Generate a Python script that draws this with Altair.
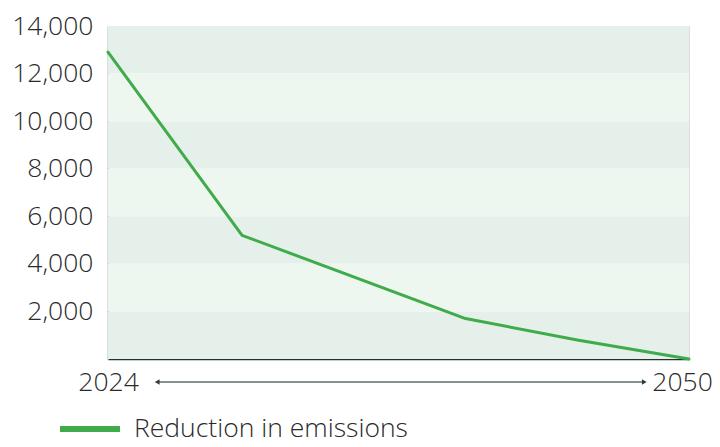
import altair as alt
import pandas as pd

years = [2024, 2030, 2040, 2045, 2050]
emissions = [12900, 5200, 1700, 800, 0]
series_name = "Reduction in emissions"

band_dark_start = [0, 4000, 8000, 12000]
band_light_start = [2000, 6000, 10000]
band_size = 2000

y_ticks = [2000, 4000, 6000, 8000, 10000, 12000, 14000]
x_ticks = [2024, 2050]
arrow_from = 2026.2
arrow_to = 2048.0

FONT = "Open Sans"
GREEN = "#3fab4a"
FS = 26.5
TXT = "#2a2a2a"

line_df = pd.DataFrame({"year": years, "value": emissions, "series": series_name})
dark_df = pd.DataFrame({"y": band_dark_start, "y2": [v + band_size for v in band_dark_start]})
light_df = pd.DataFrame({"y": band_light_start, "y2": [v + band_size for v in band_light_start]})
arrow_df = pd.DataFrame({"a": [arrow_from], "b": [arrow_to]})
head_l = pd.DataFrame({"x": [arrow_from]})
head_r = pd.DataFrame({"x": [arrow_to]})

xscale = alt.Scale(domain=[2024, 2050], nice=False, zero=False)
yscale = alt.Scale(domain=[0, 14000], nice=False)

xaxis = alt.Axis(
    values=x_ticks, labelExpr="format(datum.value, 'd')", ticks=False, grid=False,
    domainColor="#22332b", domainWidth=1.5, labelFontSize=FS, labelColor=TXT,
    labelFont=FONT, labelFontWeight=300, labelPadding=10, labelFlush=False, title=None,
    labelOffset={"condition": {"test": "datum.value == 2050", "value": -7}, "value": 0},
)
yaxis = alt.Axis(
    values=y_ticks, labelExpr="format(datum.value, ',')", ticks=False, grid=False,
    domainColor="#6e7f77", domainWidth=1.5, labelFontSize=FS, labelColor=TXT,
    labelFont=FONT, labelFontWeight=300, labelPadding=15, title=None,
)

dark = alt.Chart(dark_df).mark_rect(color="#e5f0ea").encode(
    y=alt.Y("y:Q", scale=yscale, axis=yaxis, title=None), y2="y2:Q"
)
light = alt.Chart(light_df).mark_rect(color="#edf7ef").encode(
    y=alt.Y("y:Q", scale=yscale, axis=yaxis, title=None), y2="y2:Q"
)

line = alt.Chart(line_df).mark_line(strokeWidth=3, strokeCap="round", strokeJoin="round").encode(
    x=alt.X("year:Q", scale=xscale, title=None, axis=xaxis),
    y=alt.Y("value:Q", scale=yscale, title=None, axis=yaxis),
    color=alt.Color(
        "series:N",
        scale=alt.Scale(range=[GREEN]),
        legend=alt.Legend(
            title=None, orient="none", legendX=-51, legendY=370,
            symbolType="stroke", symbolSize=3600, symbolStrokeWidth=6,
            labelFontSize=FS, labelFont=FONT, labelFontWeight=300, labelLimit=400,
            labelColor=TXT, labelOffset=11, padding=0,
        ),
    ),
)

arrow = alt.Chart(arrow_df).mark_rule(color="#5d6e66", strokeWidth=1.5).encode(
    x=alt.X("a:Q", scale=xscale, axis=xaxis, title=None), x2="b:Q", y=alt.value(356)
)
left_head = alt.Chart(head_l).mark_point(shape="triangle-left", filled=True, size=30, color="#2f3f37", opacity=1).encode(
    x=alt.X("x:Q", scale=xscale, axis=xaxis, title=None), y=alt.value(356)
)
right_head = alt.Chart(head_r).mark_point(shape="triangle-right", filled=True, size=30, color="#2f3f37", opacity=1).encode(
    x=alt.X("x:Q", scale=xscale, axis=xaxis, title=None), y=alt.value(356)
)

chart = alt.layer(dark, light, arrow, left_head, right_head, line).properties(
    width=581, height=333,
    autosize=alt.AutoSizeParams(type="none"),
    padding={"left": 100, "top": 18, "right": 23, "bottom": 88},
).configure_view(stroke=None, fill="#ffffff").configure(font=FONT)

chart.save("out.html", embed_options={"renderer": "svg", "actions": False})
